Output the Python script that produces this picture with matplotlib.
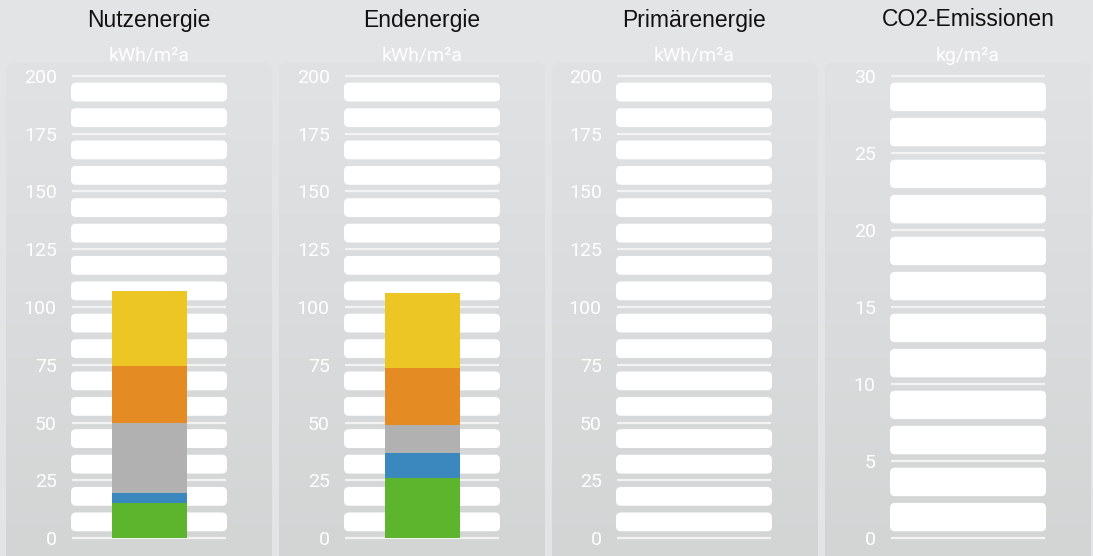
import numpy as np
import matplotlib
matplotlib.use("Agg")
import matplotlib.pyplot as plt
from matplotlib.patches import FancyBboxPatch

# ---- data ----
titles = ["Nutzenergie", "Endenergie", "Primärenergie", "CO2-Emissionen"]
units = ["kWh/m²a", "kWh/m²a", "kWh/m²a", "kg/m²a"]
y_max = [200, 200, 200, 30]
y_step = [25, 25, 25, 5]
segment_colors = ["#5db52e", "#3a88bd", "#b1b1b1", "#e48b24", "#ebc624"]
nutzenergie = [15, 4.5, 30.5, 24.5, 32.5]
endenergie = [26, 10.8, 12.1, 24.7, 32.4]
primaerenergie = []
co2 = []
series = [nutzenergie, endenergie, primaerenergie, co2]

W, H = 1093, 556
fig = plt.figure(figsize=(W / 100, H / 100), dpi=100)
fig.patch.set_facecolor("#e3e4e6")

# background panels with vertical gradient
bg = fig.add_axes([0, 0, 1, 1])
bg.set_xlim(0, W)
bg.set_ylim(H, 0)
bg.axis("off")
panel_left = [6, 279, 552, 825]
panel_w = 266
grad = np.linspace(0, 1, 256).reshape(-1, 1)
c_top = np.array([0xe1, 0xe2, 0xe4]) / 255
c_bot = np.array([0xd3, 0xd5, 0xd5]) / 255
img = c_top[None, None, :] * (1 - grad[:, :, None]) + c_bot[None, None, :] * grad[:, :, None]
for pl in panel_left:
    patch = FancyBboxPatch((pl, 62), panel_w, 560, boxstyle="round,pad=0,rounding_size=10",
                           facecolor="none", edgecolor="none")
    bg.add_patch(patch)
    im = bg.imshow(img, extent=(pl, pl + panel_w, H, 62), aspect="auto", zorder=0)
    im.set_clip_path(patch)

ax_left = [72, 345, 617, 891]
ax_w = 154
ax_top, ax_bot = 76, 538
px_gap = 6.7

for i in range(4):
    ax = fig.add_axes([ax_left[i] / W, (H - ax_bot) / H, ax_w / W, (ax_bot - ax_top) / H])
    ax.set_facecolor("none")
    ymax = y_max[i]
    step = y_step[i]
    ax.set_xlim(0, ax_w)
    ax.set_ylim(0, ymax)
    units_per_px = ymax / (ax_bot - ax_top)
    gap = px_gap * units_per_px
    slot_h = (step - 3 * gap) / 2
    ticks = np.arange(0, ymax + step / 2, step)
    for t in ticks:
        ax.plot([0, ax_w], [t, t], color="#f3f3f3", lw=1.6, solid_capstyle="butt",
                zorder=1, clip_on=False)
    for t in ticks[:-1]:
        for k in range(2):
            y0 = t + gap + k * (slot_h + gap)
            r = FancyBboxPatch((-1, y0), ax_w + 2, slot_h,
                               boxstyle="round,pad=0,rounding_size=5",
                               mutation_aspect=units_per_px,
                               facecolor="white", edgecolor="none", zorder=2, clip_on=False)
            ax.add_patch(r)
    vals = series[i]
    bottom = 0
    for v, c in zip(vals, segment_colors):
        ax.bar(ax_w / 2, v, width=75, bottom=bottom, color=c, edgecolor="none", zorder=3)
        bottom += v
    ax.set_xticks([])
    ax.set_yticks(ticks)
    ax.set_yticklabels([f"{int(t)}" for t in ticks], color="white", fontsize=14,
                       family="Roboto")
    ax.tick_params(axis="y", length=0, pad=11)
    for s in ax.spines.values():
        s.set_visible(False)
    cx = (ax_left[i] + ax_w / 2) / W
    fig.text(cx, 1 - 20 / H, titles[i], ha="center", va="center", fontsize=16.5,
             family="Liberation Sans", color="#111111")
    fig.text(cx, 1 - 56 / H, units[i], ha="center", va="center", fontsize=14,
             family="Roboto", color="white")

fig.savefig("out.png", dpi=100, facecolor=fig.get_facecolor())
